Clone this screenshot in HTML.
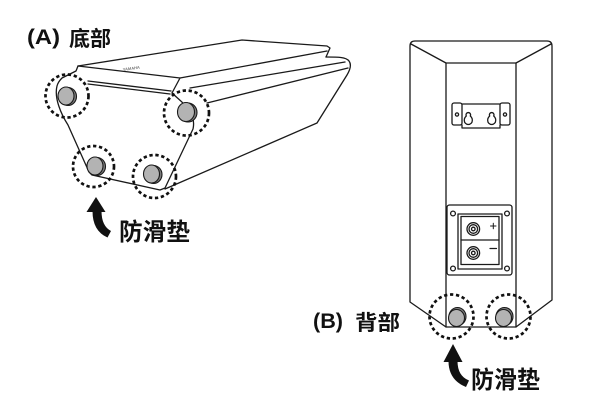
<!DOCTYPE html>
<html><head><meta charset="utf-8"><style>
html,body{margin:0;padding:0;background:#fff;}
svg{display:block;}
text{font-family:"Liberation Sans","Noto Sans CJK SC",sans-serif;font-weight:bold;fill:#111;}
</style></head><body>
<svg width="600" height="410" viewBox="0 0 600 410" xmlns="http://www.w3.org/2000/svg">
<rect width="600" height="410" fill="#fff"/>

<!-- ===== Speaker A (bottom view) ===== -->
<g fill="none" stroke="#1a1a1a" stroke-width="1.3" stroke-linejoin="round" stroke-linecap="round">
  <path d="M78,66 L242,40 L327,46 L330,48 L326,57"/>
  <path d="M326,57 C338,57 346,57 349,61 C352,65 350,70 347,75 L317,123 L165,189"/>
  <path d="M180,78 L327,51"/>
  <path d="M190,88 L345,62"/>
  <path d="M207,103 L348,68"/>
  <!-- front face -->
  <path d="M78,66 L180,78 L172,93"/>
  <path d="M172,93 C180,101 197,111 193,129 L165,188 L160,190 L92,175 L89,172 L68,125 C61,114 54,98 57,86 C58,82 60,80 62,78 L76,71 L78,66"/>
  <path d="M88,81 L171,91 M88,84 L170,94"/>
</g>
<text x="123" y="71" font-size="4" transform="rotate(-8 123 71)" style="font-weight:bold;fill:#777">YAMAHA</text>

<!-- feet A -->
<g stroke="#1a1a1a" stroke-width="1.1">
  <ellipse cx="68" cy="96.5" rx="8.5" ry="9" fill="#7c7c7c"/>
  <ellipse cx="66" cy="96" rx="8" ry="9" fill="#b3b3b3"/>
  <ellipse cx="188" cy="112.5" rx="9" ry="9.5" fill="#7c7c7c"/>
  <ellipse cx="186" cy="112" rx="8.5" ry="9.5" fill="#b3b3b3"/>
  <ellipse cx="97" cy="166.5" rx="8.5" ry="9" fill="#7c7c7c"/>
  <ellipse cx="95" cy="166" rx="8" ry="9" fill="#b3b3b3"/>
  <ellipse cx="153.5" cy="174.5" rx="8.5" ry="9" fill="#7c7c7c"/>
  <ellipse cx="151.5" cy="174" rx="8" ry="9" fill="#b3b3b3"/>
</g>
<g fill="none" stroke="#111" stroke-width="2.7" stroke-dasharray="3.3 2.7">
  <circle cx="67" cy="96" r="21.5"/>
  <circle cx="186.5" cy="113" r="22.5"/>
  <circle cx="93.5" cy="166.5" r="20.5"/>
  <circle cx="154.5" cy="176.5" r="21.5"/>
</g>

<!-- arrow A -->
<polygon points="96,197 86.5,212 105.5,212" fill="#111"/>
<path d="M92.5,211 L101.5,211 Q101.5,226 111,231 L107.5,237.5 Q92.5,231 92.5,211 Z" fill="#111"/>

<text x="27" y="44" font-size="21" textLength="33" lengthAdjust="spacingAndGlyphs">(A)</text>
<text x="69" y="46" font-size="21" textLength="42" lengthAdjust="spacingAndGlyphs">底部</text>
<text x="119" y="240" font-size="24" textLength="71" lengthAdjust="spacingAndGlyphs">防滑垫</text>

<!-- ===== Speaker B (rear view) ===== -->
<g fill="none" stroke="#1a1a1a" stroke-width="1.3" stroke-linejoin="round" stroke-linecap="round">
  <path d="M410,302 L410,46 Q410,41 415,41 L547,41 Q552,41 552,46 L552,300 L516,327 L446,327 L410,302"/>
  <path d="M411,44 L446,63 L516,63 L551,44"/>
  <path d="M446,63 L446,327 M516,63 L516,327"/>
  <!-- wall bracket -->
  <rect x="452" y="103" width="10" height="22" rx="2"/>
  <rect x="500" y="103" width="10" height="22" rx="2"/>
  <path d="M462,104 L500,104 M462,128 L500,128 M462,125 L462,128 M500,125 L500,128" />
  <circle cx="457" cy="114.5" r="1.6"/>
  <circle cx="505" cy="114.5" r="1.6"/>
  <path d="M466.3,116 A2.3,2.3 0 1 1 470.3,116 Q472.5,118 472.3,120.5 A4,4 0 0 1 464.3,120.5 Q464.1,118 466.3,116 Z"/>
  <path d="M489.7,116 A2.3,2.3 0 1 1 493.7,116 Q495.9,118 495.7,120.5 A4,4 0 0 1 487.7,120.5 Q487.5,118 489.7,116 Z"/>
  <!-- terminal plate -->
  <rect x="447" y="205" width="65" height="70" rx="2.5"/>
  <rect x="458" y="214" width="44" height="55"/>
  <rect x="461" y="216.5" width="38" height="48"/>
  <path d="M461,240 L499,240"/>
  <circle cx="453" cy="213.5" r="2.4"/>
  <circle cx="507" cy="213.5" r="2.4"/>
  <circle cx="453" cy="268.5" r="2.4"/>
  <circle cx="507" cy="268.5" r="2.4"/>
  <circle cx="473.3" cy="229" r="6.3"/>
  <circle cx="473.3" cy="229" r="4.3"/>
  <circle cx="473.3" cy="229" r="1.8"/>
  <circle cx="473.3" cy="253" r="6.3"/>
  <circle cx="473.3" cy="253" r="4.3"/>
  <circle cx="473.3" cy="253" r="1.8"/>
  <path d="M490.5,226 L496,226 M493.3,223.3 L493.3,228.7" stroke-width="1"/>
  <path d="M490,248.5 L496.5,248.5" stroke-width="1.2"/>
</g>

<!-- feet B -->
<g stroke="#1a1a1a" stroke-width="1.1">
  <ellipse cx="457.5" cy="316.5" rx="8.5" ry="9" fill="#7c7c7c"/>
  <ellipse cx="456.5" cy="318" rx="8" ry="8.5" fill="#b3b3b3"/>
  <ellipse cx="504.5" cy="316.5" rx="8.5" ry="9" fill="#7c7c7c"/>
  <ellipse cx="503.5" cy="318" rx="8" ry="8.5" fill="#b3b3b3"/>
</g>
<g fill="none" stroke="#111" stroke-width="2.7" stroke-dasharray="3.3 2.7">
  <circle cx="451.5" cy="316.5" r="22"/>
  <circle cx="508.5" cy="316.5" r="22"/>
</g>

<!-- arrow B -->
<polygon points="453,344 443.5,362 462.5,362" fill="#111"/>
<path d="M448.5,361 L457.5,361 Q457.5,376 469,380.5 L466,387 Q448.5,380 448.5,361 Z" fill="#111"/>

<text x="313" y="328" font-size="21" textLength="30" lengthAdjust="spacingAndGlyphs">(B)</text>
<text x="355" y="330" font-size="21" textLength="45" lengthAdjust="spacingAndGlyphs">背部</text>
<text x="471" y="388" font-size="24" textLength="69" lengthAdjust="spacingAndGlyphs">防滑垫</text>
</svg>
</body></html>
